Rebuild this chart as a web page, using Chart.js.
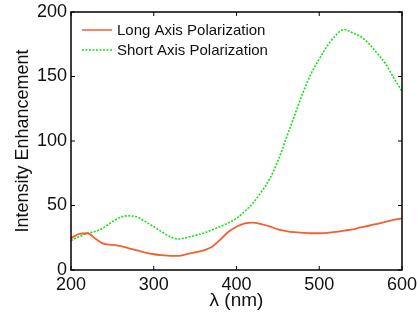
<!DOCTYPE html>
<html>
<head>
<meta charset="utf-8">
<script src="https://cdn.jsdelivr.net/npm/chart.js@4"></script>
<style>
  html, body { margin: 0; padding: 0; background: #fff; }
  #wrap { width: 418px; height: 312px; }
</style>
</head>
<body>
<div id="wrap"><canvas id="chart" width="418" height="312"></canvas></div>
<script>
const wavelengths = [200, 210, 220, 230, 240, 250, 260, 270, 280, 290, 300, 310, 320, 330, 340, 350, 360, 370, 380, 390,
    400, 410, 420, 430, 440, 450, 460, 470, 480, 490, 500, 510, 520, 530, 540, 550, 560, 570, 580, 590, 600];
const longAxis = [24.6, 28, 28.5, 24, 20.2, 19.5, 18.5, 16.8, 15.2, 13.5, 12.2, 11.5, 11, 11, 12.3, 13.7, 15.2, 17.8, 23.3, 29.5,
    33.5, 36.2, 36.8, 35.5, 33.8, 31.5, 30.2, 29.3, 28.8, 28.5, 28.5, 28.8, 29.5, 30.5, 31.5, 33, 34.3, 35.8, 37.3, 38.8, 40];
const shortAxis = [22.8, 26, 28.5, 30, 33, 37.5, 41, 42, 41, 37.5, 33.5, 29.5, 25.8, 24, 25.2, 26.8, 28.5, 31, 33.6, 36.5,
    40, 45.5, 52, 60.5, 70.5, 84.5, 102, 119.5, 137, 152, 163.5, 174, 182, 186.4, 184, 181, 175.5, 168, 160, 149, 138.6];
const seriesNames = ['Long Axis Polarization', 'Short Axis Polarization'];
const xTicks = [200, 300, 400, 500, 600];
const yTicks = [0, 50, 100, 150, 200];

const FONT = 'Liberation Sans, Arial, sans-serif';
const longColor = 'rgb(242, 96, 48)';
const shortColor = 'rgb(20, 225, 20)';

function toPoints(ys) {
    return wavelengths.map((x, i) => ({ x: x, y: ys[i] }));
}

// box round the plot, inward ticks on all four sides, and the legend inside
const boxPlugin = {
    id: 'box',
    afterDraw(chart) {
        const ctx = chart.ctx;
        const a = chart.chartArea;
        const xs = chart.scales.x;
        const ys = chart.scales.y;
        ctx.save();
        ctx.strokeStyle = '#000';
        ctx.lineWidth = 1.5;
        ctx.strokeRect(a.left, a.top, a.right - a.left, a.bottom - a.top);
        ctx.lineWidth = 1;
        xTicks.forEach(v => {
            const px = xs.getPixelForValue(v);
            ctx.beginPath();
            ctx.moveTo(px, a.bottom); ctx.lineTo(px, a.bottom - 4);
            ctx.moveTo(px, a.top); ctx.lineTo(px, a.top + 4);
            ctx.stroke();
        });
        yTicks.forEach(v => {
            const py = ys.getPixelForValue(v);
            ctx.beginPath();
            ctx.moveTo(a.left, py); ctx.lineTo(a.left + 4, py);
            ctx.moveTo(a.right, py); ctx.lineTo(a.right - 4, py);
            ctx.stroke();
        });

        // legend
        const lx = a.left + 11;
        const rows = [
            { color: longColor, dash: [], y: a.top + 18 },
            { color: shortColor, dash: [2, 1.5], y: a.top + 38 }
        ];
        ctx.font = '15px ' + FONT;
        ctx.textBaseline = 'middle';
        rows.forEach((r, i) => {
            ctx.strokeStyle = r.color;
            ctx.lineWidth = 1.5;
            ctx.setLineDash(r.dash);
            ctx.beginPath();
            ctx.moveTo(lx, r.y); ctx.lineTo(lx + 30, r.y);
            ctx.stroke();
            ctx.setLineDash([]);
            ctx.fillStyle = '#111';
            ctx.fillText(seriesNames[i], lx + 35, r.y + 1);
        });
        ctx.restore();
    }
};

new Chart(document.getElementById('chart').getContext('2d'), {
    type: 'line',
    data: {
        datasets: [{
            label: seriesNames[0],
            data: toPoints(longAxis),
            borderColor: longColor,
            borderWidth: 1.8,
            pointRadius: 0,
            cubicInterpolationMode: 'monotone',
            fill: false
        }, {
            label: seriesNames[1],
            data: toPoints(shortAxis),
            borderColor: shortColor,
            borderWidth: 1.6,
            borderDash: [2, 1.5],
            pointRadius: 0,
            cubicInterpolationMode: 'monotone',
            fill: false
        }]
    },
    options: {
        responsive: false,
        animation: false,
        layout: { padding: { left: 0, right: 16, top: 12, bottom: 0 } },
        plugins: {
            legend: { display: false },
            tooltip: { enabled: false }
        },
        scales: {
            x: {
                type: 'linear',
                min: 200,
                max: 600,
                afterBuildTicks: s => { s.ticks = xTicks.map(v => ({ value: v })); },
                afterFit: s => { s.height = 42; s.paddingRight = 0; s.paddingLeft = 0; },
                grid: { display: false, drawTicks: false },
                border: { display: false },
                ticks: { color: '#111', font: { family: FONT, size: 18 }, padding: 4, maxRotation: 0 },
                title: { display: true, text: 'λ (nm)', color: '#111', font: { family: FONT, size: 19 }, padding: { top: 0, bottom: 0 } }
            },
            y: {
                min: 0,
                max: 200,
                afterBuildTicks: s => { s.ticks = yTicks.map(v => ({ value: v })); },
                afterFit: s => { s.width = 71; s.paddingTop = 0; s.paddingBottom = 0; },
                grid: { display: false, drawTicks: false },
                border: { display: false },
                ticks: { color: '#111', font: { family: FONT, size: 18 }, padding: 4 },
                title: { display: true, text: 'Intensity Enhancement', color: '#111', font: { family: FONT, size: 18 }, padding: { top: 12, bottom: 0 } }
            }
        }
    },
    plugins: [boxPlugin]
});
</script>
</body>
</html>
